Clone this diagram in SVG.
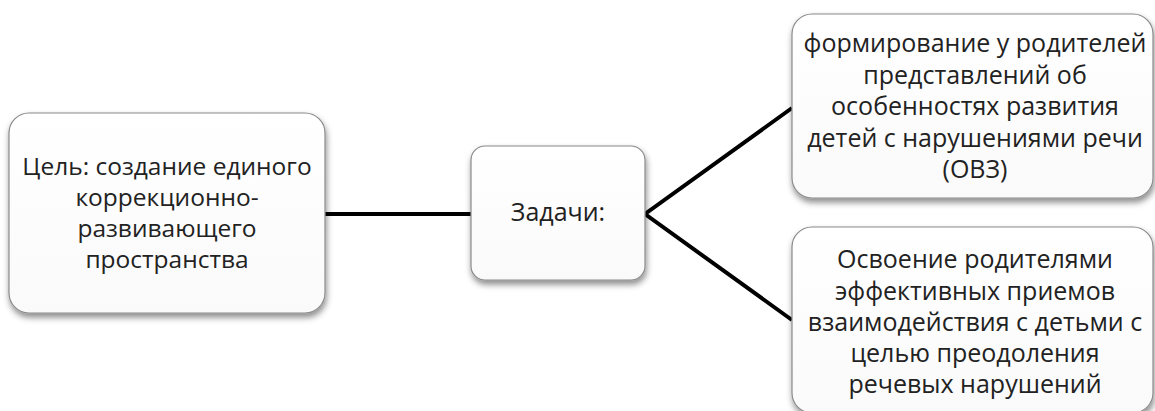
<svg xmlns="http://www.w3.org/2000/svg" width="1155" height="411" viewBox="0 0 1155 411">
<defs>
<filter id="sh" x="-10%" y="-10%" width="125%" height="130%">
<feDropShadow dx="1" dy="4" stdDeviation="3" flood-color="#000" flood-opacity="0.45"/>
</filter>
<linearGradient id="g" x1="0" y1="0" x2="0" y2="1">
<stop offset="0" stop-color="#ffffff"/>
<stop offset="1" stop-color="#fafafa"/>
</linearGradient>
<style>
.box{fill:url(#g);stroke:#8a8a8a;stroke-width:1.2;filter:url(#sh)}
.t{font-family:"Open Sans","Liberation Sans",sans-serif;font-size:25px;fill:#222;text-anchor:middle}
.s{font-size:24.5px}
.c{stroke:#000;stroke-width:4;fill:none;stroke-linejoin:miter}
</style>
</defs>
<g id="connectors">
<line class="c" x1="325" y1="214" x2="471" y2="214"/>
<polyline class="c" points="792,108 645,214 792,320"/>
</g>
<g id="goal">
<rect class="box" x="9" y="113" width="316" height="200" rx="20"/>
<text class="t s" x="167" y="175">Цель: создание единого</text>
<text class="t s" x="167" y="206">коррекционно-</text>
<text class="t s" x="167" y="237">развивающего</text>
<text class="t s" x="167" y="268">пространства</text>
</g>
<g id="tasks">
<rect class="box" x="471" y="146" width="174" height="134" rx="14"/>
<text class="t" x="558" y="221">Задачи:</text>
</g>
<g id="task1">
<rect class="box" x="792" y="14" width="361" height="184" rx="20"/>
<text class="t" x="975" y="52">формирование у родителей</text>
<text class="t" x="975" y="84">представлений об</text>
<text class="t" x="975" y="115">особенностях развития</text>
<text class="t" x="975" y="147">детей с нарушениями речи</text>
<text class="t" x="975" y="178">(ОВЗ)</text>
</g>
<g id="task2">
<rect class="box" x="792" y="227" width="361" height="186" rx="20"/>
<text class="t" x="975" y="268">Освоение родителями</text>
<text class="t" x="975" y="300">эффективных приемов</text>
<text class="t" x="975" y="331">взаимодействия с детьми с</text>
<text class="t" x="975" y="362">целью преодоления</text>
<text class="t" x="975" y="393">речевых нарушений</text>
</g>
</svg>
